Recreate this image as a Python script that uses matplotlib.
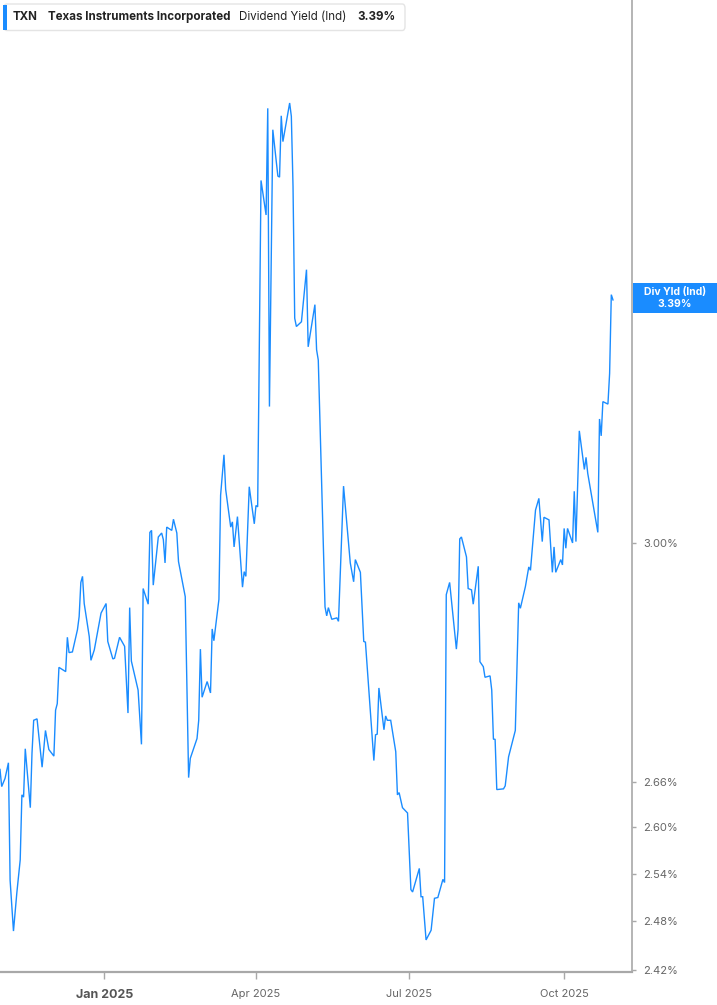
import numpy as np
import pandas as pd
import matplotlib
matplotlib.use("Agg")
import matplotlib.pyplot as plt
import matplotlib.dates as mdates
from matplotlib.patches import Rectangle, FancyBboxPatch
from matplotlib.ticker import FixedLocator, NullLocator

plt.rcParams['font.family'] = ['Inter', 'DejaVu Sans']

# TXN indicated dividend yield (%)
dates = [
    "2024-10-31", "2024-11-01", "2024-11-03", "2024-11-05", "2024-11-06", "2024-11-08",
    "2024-11-10", "2024-11-12", "2024-11-13", "2024-11-14", "2024-11-15", "2024-11-18",
    "2024-11-19", "2024-11-20", "2024-11-22", "2024-11-25", "2024-11-27", "2024-11-29",
    "2024-12-02", "2024-12-03", "2024-12-04", "2024-12-05", "2024-12-09", "2024-12-10",
    "2024-12-11", "2024-12-13", "2024-12-16", "2024-12-17", "2024-12-18", "2024-12-19",
    "2024-12-20", "2024-12-23", "2024-12-24", "2024-12-26", "2024-12-28", "2024-12-30",
    "2025-01-02", "2025-01-03", "2025-01-06", "2025-01-07", "2025-01-10", "2025-01-13",
    "2025-01-15", "2025-01-16", "2025-01-17", "2025-01-21", "2025-01-23", "2025-01-24",
    "2025-01-27", "2025-01-28", "2025-01-29", "2025-01-30", "2025-02-02", "2025-02-04",
    "2025-02-05", "2025-02-06", "2025-02-07", "2025-02-10", "2025-02-11", "2025-02-13",
    "2025-02-14", "2025-02-18", "2025-02-20", "2025-02-21", "2025-02-25", "2025-02-26",
    "2025-02-27", "2025-02-28", "2025-03-03", "2025-03-05", "2025-03-06", "2025-03-07",
    "2025-03-10", "2025-03-11", "2025-03-13", "2025-03-14", "2025-03-17", "2025-03-18",
    "2025-03-19", "2025-03-21", "2025-03-24", "2025-03-25", "2025-03-26", "2025-03-28",
    "2025-03-31", "2025-04-01", "2025-04-02", "2025-04-04", "2025-04-07", "2025-04-08",
    "2025-04-09", "2025-04-11", "2025-04-14", "2025-04-15", "2025-04-16", "2025-04-17",
    "2025-04-21", "2025-04-22", "2025-04-23", "2025-04-24", "2025-04-25", "2025-04-28",
    "2025-05-01", "2025-05-02", "2025-05-06", "2025-05-07", "2025-05-08", "2025-05-12",
    "2025-05-13", "2025-05-14", "2025-05-16", "2025-05-19", "2025-05-20", "2025-05-23",
    "2025-05-27", "2025-05-29", "2025-05-30", "2025-06-02", "2025-06-04", "2025-06-05",
    "2025-06-10", "2025-06-11", "2025-06-12", "2025-06-13", "2025-06-16", "2025-06-17",
    "2025-06-18", "2025-06-20", "2025-06-23", "2025-06-24", "2025-06-25", "2025-06-27",
    "2025-06-30", "2025-07-02", "2025-07-03", "2025-07-07", "2025-07-08", "2025-07-09",
    "2025-07-11", "2025-07-14", "2025-07-16", "2025-07-18", "2025-07-21", "2025-07-22",
    "2025-07-23", "2025-07-25", "2025-07-29", "2025-07-30", "2025-07-31", "2025-08-01",
    "2025-08-04", "2025-08-05", "2025-08-07", "2025-08-08", "2025-08-11", "2025-08-12",
    "2025-08-14", "2025-08-15", "2025-08-18", "2025-08-19", "2025-08-20", "2025-08-21",
    "2025-08-22", "2025-08-26", "2025-08-27", "2025-08-29", "2025-09-02", "2025-09-04",
    "2025-09-05", "2025-09-08", "2025-09-10", "2025-09-11", "2025-09-14", "2025-09-16",
    "2025-09-18", "2025-09-19", "2025-09-22", "2025-09-24", "2025-09-25", "2025-09-26",
    "2025-09-29", "2025-09-30", "2025-10-01", "2025-10-02", "2025-10-03", "2025-10-06",
    "2025-10-07", "2025-10-08", "2025-10-10", "2025-10-13", "2025-10-14", "2025-10-15",
    "2025-10-21", "2025-10-22", "2025-10-23", "2025-10-24", "2025-10-27", "2025-10-28",
    "2025-10-29", "2025-10-30",
]
div_yield = [
    2.677, 2.654, 2.665, 2.686, 2.532, 2.468,
    2.516, 2.558, 2.643, 2.640, 2.705, 2.626,
    2.699, 2.744, 2.746, 2.680, 2.730, 2.704,
    2.695, 2.758, 2.767, 2.818, 2.812, 2.861,
    2.839, 2.840, 2.872, 2.891, 2.941, 2.950,
    2.910, 2.862, 2.828, 2.843, 2.869, 2.896,
    2.910, 2.855, 2.830, 2.831, 2.861, 2.848,
    2.754, 2.904, 2.827, 2.786, 2.711, 2.932,
    2.909, 3.016, 3.019, 2.937, 3.009, 3.015,
    3.005, 2.970, 3.024, 3.019, 3.036, 3.015,
    2.972, 2.920, 2.666, 2.692, 2.719, 2.744,
    2.844, 2.776, 2.798, 2.782, 2.873, 2.856,
    2.916, 3.073, 3.136, 3.082, 3.024, 3.032,
    2.994, 3.040, 2.934, 2.957, 2.950, 3.086,
    3.029, 3.057, 3.055, 3.600, 3.538, 3.733,
    3.213, 3.693, 3.608, 3.606, 3.719, 3.671,
    3.743, 3.718, 3.589, 3.359, 3.345, 3.353,
    3.442, 3.311, 3.382, 3.306, 3.289, 2.905,
    2.892, 2.904, 2.887, 2.889, 2.884, 3.087,
    2.970, 2.942, 2.975, 2.956, 2.855, 2.854,
    2.689, 2.724, 2.725, 2.789, 2.731, 2.750,
    2.744, 2.744, 2.701, 2.643, 2.646, 2.626,
    2.619, 2.520, 2.517, 2.547, 2.511, 2.511,
    2.457, 2.469, 2.509, 2.510, 2.533, 2.529,
    2.923, 2.941, 2.844, 2.872, 3.006, 3.009,
    2.979, 2.932, 2.930, 2.909, 2.965, 2.826,
    2.819, 2.804, 2.806, 2.786, 2.718, 2.718,
    2.650, 2.651, 2.655, 2.694, 2.730, 2.911,
    2.903, 2.935, 2.964, 2.959, 3.050, 3.068,
    3.002, 3.039, 3.035, 2.956, 2.994, 2.956,
    2.975, 2.967, 3.022, 2.992, 3.022, 3.000,
    3.079, 3.002, 3.174, 3.113, 3.132, 3.107,
    3.016, 3.193, 3.166, 3.221, 3.217, 3.267,
    3.399, 3.390,
]

y_ticks = [2.42, 2.48, 2.54, 2.60, 2.66, 3.00]
x_ticks = ["2025-01-01", "2025-04-01", "2025-07-01", "2025-10-01"]
x_tick_labels = ["Jan 2025", "Apr 2025", "Jul 2025", "Oct 2025"]

ticker = "TXN"
company = "Texas Instruments Incorporated"
metric = "Dividend Yield (Ind)"
last_value = "3.39%"

BLUE = "#1a8cff"
GREY_AXIS = "#a8a8a8"
GREY_TEXT = "#666666"

W, H = 717, 1005
fig = plt.figure(figsize=(W / 100, H / 100), dpi=100)
fig.patch.set_facecolor("white")

def fx(px):
    return px / W

def fy(py):
    return 1 - py / H

ax = fig.add_axes([0, fy(972), fx(632), 1 - fy(972)])
x = pd.to_datetime(dates)
ax.plot(x, div_yield, color=BLUE, lw=1.0, solid_joinstyle="miter")

ax.set_yscale("log")
ax.set_ylim(2.4177, 3.942)
ax.set_xlim(pd.Timestamp("2024-10-31"), pd.Timestamp("2025-11-10 07:00"))

for side in ["left", "top"]:
    ax.spines[side].set_visible(False)
ax.spines["bottom"].set_color(GREY_AXIS)
ax.spines["bottom"].set_linewidth(1.6)
ax.spines["right"].set_color(GREY_AXIS)
ax.spines["right"].set_linewidth(1.2)

ax.yaxis.tick_right()
ax.yaxis.set_major_locator(FixedLocator(y_ticks))
ax.yaxis.set_minor_locator(NullLocator())
ax.set_yticklabels([f"{v:.2f}%" for v in y_ticks])
ax.tick_params(axis="y", which="major", direction="out", length=3, width=1,
               color=GREY_AXIS, labelsize=8, labelcolor=GREY_TEXT, pad=5)

ax.set_xticks(pd.to_datetime(x_ticks))
ax.set_xticklabels(x_tick_labels)
ax.tick_params(axis="x", direction="out", length=5, width=1, color=GREY_AXIS,
               labelsize=8, labelcolor=GREY_TEXT, pad=7)
first = ax.get_xticklabels()[0]
first.set_fontweight("bold")
first.set_fontsize(9)
first.set_color("#555555")
ax.grid(False)

# header box
hdr = FancyBboxPatch((fx(4), fy(30.5)), fx(401), fy(4) - fy(30.5),
                     boxstyle="round,pad=0,rounding_size=0.004",
                     transform=fig.transFigure, facecolor="white",
                     edgecolor="#e4e4e4", lw=1.0, zorder=5)
fig.patches.append(hdr)
fig.patches.append(Rectangle((fx(3), fy(30)), fx(3.5), fy(5) - fy(30),
                             transform=fig.transFigure, facecolor=BLUE,
                             edgecolor="none", zorder=6))
hy = fy(17)
hs = 8.35
fig.text(fx(13), hy, ticker, fontsize=hs, fontweight="bold", color="#222222", va="center", zorder=7)
fig.text(fx(48), hy, company, fontsize=hs, fontweight="bold", color="#222222", va="center", zorder=7)
fig.text(fx(239), hy, metric, fontsize=hs, color="#222222", va="center", zorder=7)
fig.text(fx(357), hy, last_value, fontsize=hs, fontweight="bold", color="#222222", va="center", zorder=7)

# last value tag on right axis
fig.patches.append(Rectangle((fx(633), fy(313)), fx(717 - 633), fy(283) - fy(313),
                             transform=fig.transFigure, facecolor=BLUE,
                             edgecolor="none", zorder=6))
fig.text(fx(675), fy(292), "Div Yld (Ind)", fontsize=7.5, fontweight="bold",
         color="white", ha="center", va="center", zorder=7)
fig.text(fx(675), fy(304), last_value, fontsize=7.5, fontweight="bold",
         color="white", ha="center", va="center", zorder=7)

fig.savefig("out.png", dpi=100, facecolor="white")
